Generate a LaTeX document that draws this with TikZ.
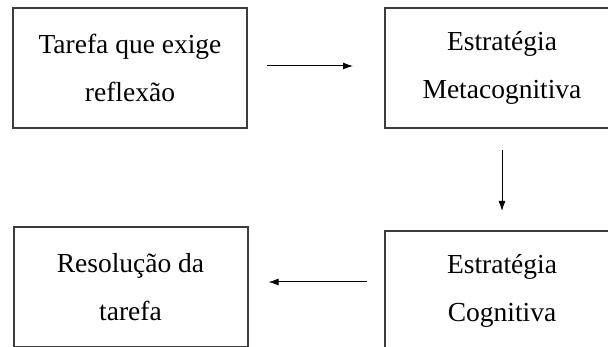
\documentclass[tikz,border=0pt]{standalone}
\usepackage{fontspec}
\setmainfont{Liberation Serif}
\usepackage{tikz}
\usetikzlibrary{arrows.meta}
\definecolor{boxgray}{RGB}{60,60,60}

\begin{document}
\begin{tikzpicture}[x=1pt,y=-1pt,>={Latex[length=10pt,width=7pt]}] %[>=stealth']
                \tikzstyle{every node}=[font=\fontsize{27.5}{48}\selectfont]
                \tikzstyle{etapa}=[draw=boxgray,line width=2pt,minimum width=234pt,minimum height=120pt,align=center,inner sep=0pt]
                \tikzstyle{seta}=[->,line width=1pt]
                \useasboundingbox (0,0) rectangle (608,347);
                \clip (0,0) rectangle (608,347);
                \node[etapa] (tarefa) at (130, 68) {Tarefa que exige\\reflexão};
                \node[etapa] (meta) at (502, 68) {Estratégia\\Metacognitiva};
                \node[etapa] (cog) at (502, 291) {Estratégia\\Cognitiva};
                \node[etapa] (resol) at (130.5, 287) {Resolução da\\tarefa};

            \draw[seta, shorten <=19pt, shorten >=31pt] ([yshift=2pt]tarefa.east) -- ([yshift=2pt]meta.west);
            \draw[seta, shorten <=21pt, shorten >=19pt] (meta.south) -- (cog.north);
            \draw[seta, shorten <=17pt, shorten >=20pt] ([yshift=9pt]cog.west) -- ([yshift=5pt]resol.east);
          \end{tikzpicture}
\end{document}
